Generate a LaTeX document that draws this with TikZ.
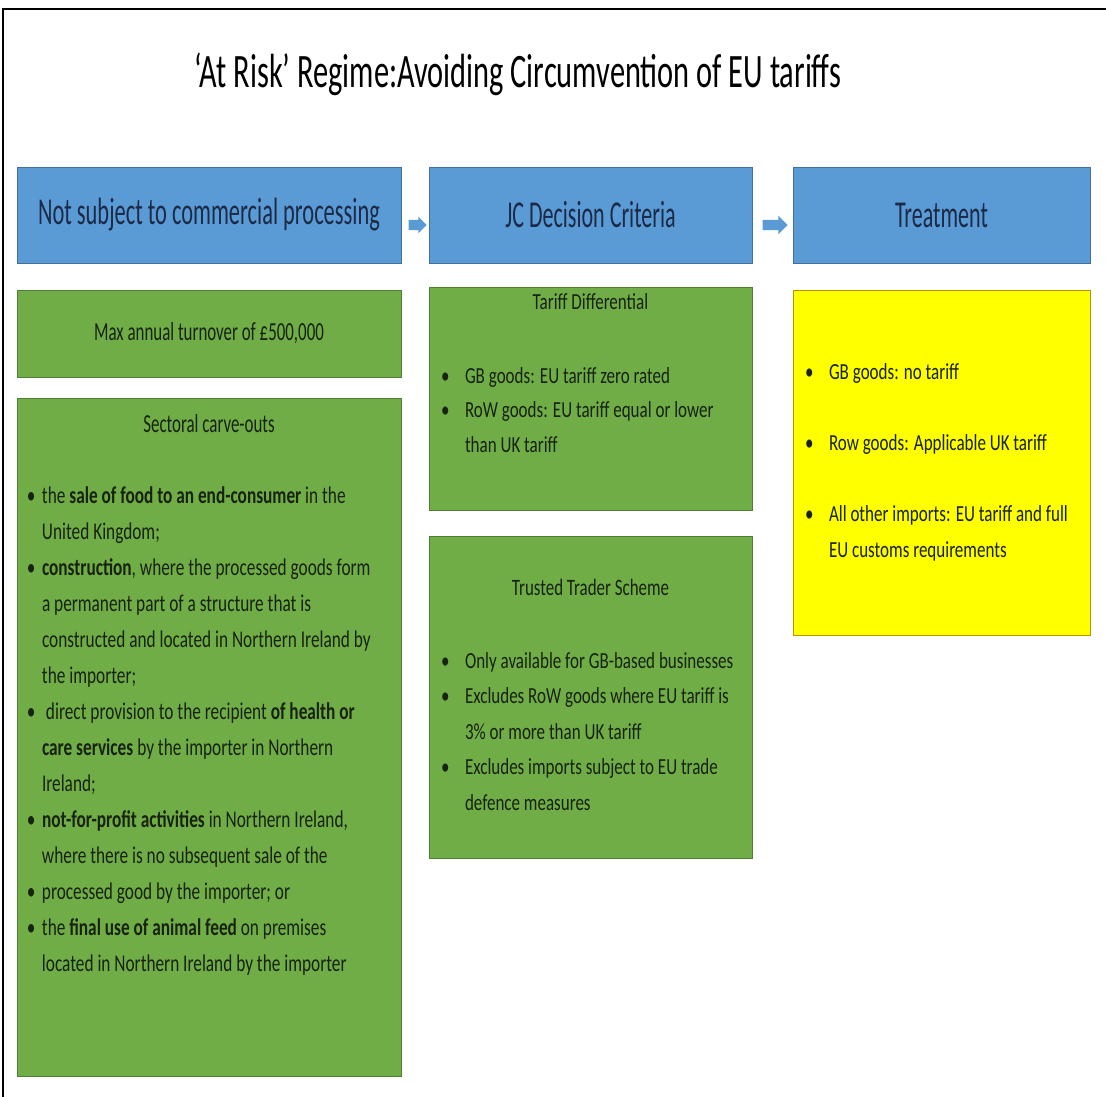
\documentclass[tikz,border=0pt]{standalone}
\usepackage{fontspec}
\setmainfont{Carlito}
\newfontfamily\ctitle[FakeStretch=0.633]{Carlito}
\newfontfamily\chA[FakeStretch=0.59]{Carlito}
\newfontfamily\chB[FakeStretch=0.58]{Carlito}
\newfontfamily\cm[FakeStretch=0.65]{Carlito}
\newfontfamily\cb[FakeStretch=0.74]{Carlito}
\newfontfamily\cs[FakeStretch=0.72]{Carlito}
\usetikzlibrary{shapes.arrows,calc}
\definecolor{hblue}{HTML}{5B9BD5}
\definecolor{hblueb}{HTML}{41719C}
\definecolor{sgreen}{HTML}{70AD47}
\definecolor{sgreenb}{HTML}{507E32}
\definecolor{syel}{HTML}{FFFF00}
\definecolor{syelb}{HTML}{BF9000}
\definecolor{htext}{HTML}{1B2A47}
\definecolor{gtext}{HTML}{17220F}
\newcommand{\bul}{\makebox[15pt][l]{\textbullet}}
\newcommand{\ind}{\hspace*{15pt}}
\newcommand{\bulw}{\makebox[24pt][l]{\textbullet}}
\newcommand{\indw}{\hspace*{24pt}}
\tikzset{
  box/.style={draw, line width=0.8pt, inner sep=0pt, outer sep=0pt, anchor=north west},
  hdr/.style={box, fill=hblue, draw=hblueb, text=htext},
  grn/.style={box, fill=sgreen, draw=sgreenb},
  yel/.style={box, fill=syel, draw=syelb},
  txt/.style={inner sep=0pt, outer sep=0pt, align=left, anchor=base west, text=gtext},
  ttl/.style={inner sep=0pt, outer sep=0pt, anchor=base, text=gtext},
  flow/.style={single arrow, fill=hblue, draw=none, inner xsep=0pt, outer sep=0pt, single arrow head indent=0pt}
}
\begin{document}
\begin{tikzpicture}[x=1pt,y=-1pt]
\useasboundingbox (0,0) rectangle (1106,1097);
\fill[white] (0,0) rectangle (1106,1097);
\draw[line width=1.5pt] (3,1097) -- (3,9) -- (1106,9);
\node[inner sep=0pt, anchor=base, font={\ctitle\fontsize{48}{52}\selectfont}] (title) at (518,88) {‘At Risk’ Regime:Avoiding Circumvention of EU tariffs};
% headers
\node[hdr, minimum width=384pt, minimum height=96pt, font={\chA\fontsize{38}{40}\selectfont}] (h1) at (17,167) {Not subject to commercial processing};
\node[hdr, minimum width=323pt, minimum height=96pt, font={\chB\fontsize{38}{40}\selectfont}] (h2) at (429,167) {JC Decision Criteria};
\node[hdr, minimum width=297pt, minimum height=96pt, font={\chB\fontsize{38}{40}\selectfont}] (h3) at (793,167) {Treatment};
\node[flow, minimum height=18pt, inner ysep=5pt, single arrow head extend=3pt] (a1) at ($(h1.east)!0.5!(h2.west)+(0,10)$) {};
\node[flow, minimum height=25pt, inner ysep=5pt, single arrow head extend=4pt] (a2) at ($(h2.east)!0.5!(h3.west)+(0,10)$) {};
% column 1
\node[grn, minimum width=384pt, minimum height=87pt, text=gtext, font={\cm\fontsize{26}{30}\selectfont}] (max) at (17,290) {Max annual turnover of £500,000};
\node[grn, minimum width=384pt, minimum height=678pt] (sect) at (17,398) {};
\node[ttl, font={\cm\fontsize{26}{30}\selectfont}] (secttl) at (209,432) {Sectoral carve-outs};
\node[txt, font={\cs\fontsize{24}{36}\selectfont}] (sectxt) at (27,971) {%
\bul the \textbf{sale of food to an end-consumer} in the\\
\ind United Kingdom;\\
\bul \textbf{construction}, where the processed goods form\\
\ind a permanent part of a structure that is\\
\ind constructed and located in Northern Ireland by\\
\ind the importer;\\
\bul \hspace{4pt}direct provision to the recipient \textbf{of health or}\\
\ind \textbf{care services} by the importer in Northern\\
\ind Ireland;\\
\bul \textbf{not-for-profit activities} in Northern Ireland,\\
\ind where there is no subsequent sale of the\\
\bul processed good by the importer; or\\
\bul the \textbf{final use of animal feed} on premises\\
\ind located in Northern Ireland by the importer};
% column 2
\node[grn, minimum width=323pt, minimum height=223pt] (tar) at (429,287) {};
\node[ttl, font={\cb\fontsize{23}{26}\selectfont}] (tarttl) at (590.5,309) {Tariff Differential};
\node[txt, font={\cb\fontsize{23}{34.5}\selectfont}] (tartxt) at (441,452) {%
\bulw GB goods: EU tariff zero rated\\
\bulw RoW goods: EU tariff equal or lower\\
\indw than UK tariff};
\node[grn, minimum width=323pt, minimum height=322pt] (tts) at (429,536) {};
\node[ttl, font={\cs\fontsize{23.5}{28}\selectfont}] (ttsttl) at (590.5,595) {Trusted Trader Scheme};
\node[txt, font={\cb\fontsize{23}{35.5}\selectfont}] (ttstxt) at (441,810) {%
\bulw Only available for GB-based businesses\\
\bulw Excludes RoW goods where EU tariff is\\
\indw 3\% or more than UK tariff\\
\bulw Excludes imports subject to EU trade\\
\indw defence measures};
% column 3
\node[yel, minimum width=297pt, minimum height=345pt] (trt) at (793,290) {};
\node[txt, font={\cb\fontsize{23}{35.7}\selectfont}] (trttxt) at (805,557.5) {%
\bulw GB goods: no tariff\\[35.7pt]
\bulw Row goods: Applicable UK tariff\\[35.7pt]
\bulw All other imports: EU tariff and full\\
\indw EU customs requirements};
\end{tikzpicture}
\end{document}
